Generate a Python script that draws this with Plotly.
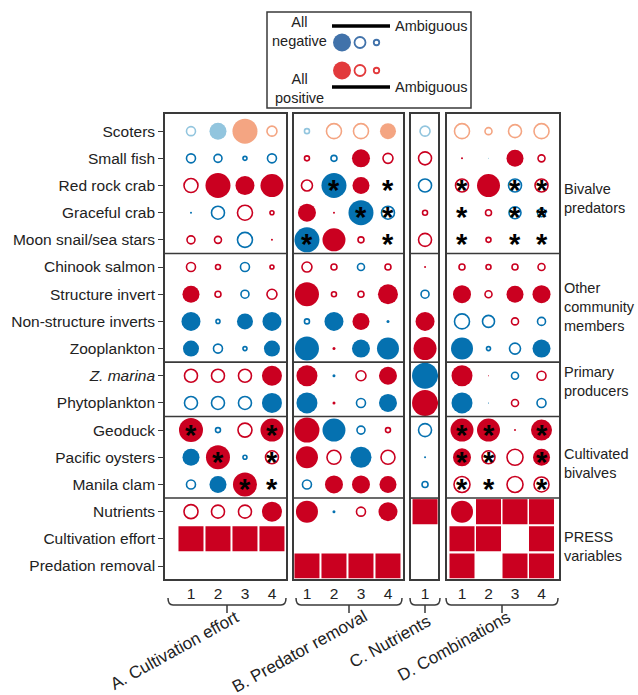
import plotly.graph_objects as go

W, H = 638, 695

row_labels = [
    "Scoters", "Small fish", "Red rock crab", "Graceful crab", "Moon snail/sea stars",
    "Chinook salmon", "Structure invert", "Non-structure inverts", "Zooplankton",
    "<i>Z. marina</i>", "Phytoplankton", "Geoduck", "Pacific oysters", "Manila clam",
    "Nutrients", "Cultivation effort", "Predation removal",
]

# Cell codes: first letter = colour (R/r red, B/b blue, S/s salmon, L/l light blue),
# upper case = filled circle, lower case = open circle, number = circle size,
# trailing "*" = significant, "Q" = press variable, "" = empty.
panel_A = [
    ["l9", "L17", "S25", "s10"],
    ["b9", "b8", "b4", "b9"],
    ["r14", "R25", "R19", "R23"],
    ["B2", "b13", "r15", "r4"],
    ["r8", "r7", "b15", "R2"],
    ["r9", "r5", "b9", "r4"],
    ["R17", "r6", "b8", "r10"],
    ["B19", "b4", "B16", "B19"],
    ["B16", "b9", "b4", "B16"],
    ["r13", "r13", "r13", "R20"],
    ["b13", "b13", "b13", "B20"],
    ["R24*", "b5", "r14", "R23*"],
    ["B17", "R24*", "b4", "r13*"],
    ["b9", "B17", "R24*", "*"],
    ["r14", "r13", "r13", "R20"],
    ["Q", "Q", "Q", "Q"],
    ["", "", "", ""],
]

panel_B = [
    ["l5", "s15", "s15", "S16"],
    ["r5", "b6", "R18", "r10"],
    ["r11", "B25*", "R17", "*"],
    ["R18", "R2", "B25*", "b13*"],
    ["B25*", "R23", "r6", "*"],
    ["r10", "r6", "b7", "r6"],
    ["R24", "r5", "r6", "R20"],
    ["b5", "B19", "R17", "B3"],
    ["B24", "R3", "B18", "B22"],
    ["R21", "B3", "r10", "R18"],
    ["B21", "R3", "b9", "B18"],
    ["R25", "B23", "b8", "r5"],
    ["R22", "r14", "B21", "r14"],
    ["b9", "R18", "R18", "R17"],
    ["R22", "B3", "r9", "R19"],
    ["", "", "", ""],
    ["Q", "Q", "Q", "Q"],
]

panel_C = [
    ["l10"], ["r13"], ["b13"], ["r5"], ["r13"],
    ["R2"], ["b8"], ["R19"], ["R23"],
    ["B26"], ["R26"],
    ["b13"], ["B2"], ["b6"],
    ["Q"], [""], [""],
]

panel_D = [
    ["s15", "s7", "s13", "s15"],
    ["R2", "L1", "R17", "r7"],
    ["r13*", "R23", "b13*", "r13*"],
    ["*", "r6", "b12*", "b8*"],
    ["*", "r5", "*", "*"],
    ["r6", "r5", "r6", "r7"],
    ["R18", "r7", "R17", "R18"],
    ["b15", "b12", "r7", "b8"],
    ["B22", "b4", "b11", "B18"],
    ["R21", "R1", "b7", "r9"],
    ["B21", "B1", "r7", "b9"],
    ["R23*", "R23*", "R2", "R21*"],
    ["R18*", "r13*", "r16", "R17*"],
    ["r16*", "*", "r16", "r15*"],
    ["R22", "Q", "Q", "Q"],
    ["Q", "Q", "", "Q"],
    ["Q", "", "Q", "Q"],
]

col_labels_4 = ["1", "2", "3", "4"]
col_labels_1 = ["1"]

group_titles = [
    "Bivalve<br>predators",
    "Other<br>community<br>members",
    "Primary<br>producers",
    "Cultivated<br>bivalves",
    "PRESS<br>variables",
]

treatment_titles = ["A. Cultivation effort", "B. Predator removal", "C. Nutrients", "D. Combinations"]

COLOURS = {"r": "#ca0020", "b": "#0571b0", "s": "#f4a582", "l": "#92c5de"}
LEG_BLUE, LEG_RED = "#4172aa", "#e23a3c"
INK = "#222222"
FRAME = "#3a3a3a"
FONT = "Liberation Sans, Arial, sans-serif"


def fx(p):
    return p / W


def fy(p):
    return 1 - p / H


# panel geometry (pixel domains and column ranges)
panels = [
    dict(cells=panel_A, ticks=col_labels_4, dom=(165, 286), rng=(0.037, 4.52),
         brace=(168, 286), title=treatment_titles[0], tpos=(245, 605)),
    dict(cells=panel_B, ticks=col_labels_4, dom=(294, 403), rng=(0.52, 4.556),
         brace=(296, 402), title=treatment_titles[1], tpos=(373, 603.5)),
    dict(cells=panel_C, ticks=col_labels_1, dom=(411, 438), rng=(0.48, 1.48),
         brace=(410, 440), title=treatment_titles[2], tpos=(437, 608.5)),
    dict(cells=panel_D, ticks=col_labels_4, dom=(447, 559), rng=(0.434, 4.66),
         brace=(446, 558), title=treatment_titles[3], tpos=(516, 604.5)),
]

Y_DOM = (fy(578.5), fy(113.5))
Y_RANGE = [16.46, -0.65]
separators = [4.5, 8.5, 10.5, 13.5]

fig = go.Figure()
layout = dict(
    width=W, height=H, margin=dict(l=0, r=0, t=0, b=0),
    paper_bgcolor="white", plot_bgcolor="rgba(0,0,0,0)", showlegend=False,
    font=dict(family=FONT, size=15.5, color=INK),
)
shapes, annotations = [], []

for k, p in enumerate(panels, start=1):
    xa = "xaxis" if k == 1 else f"xaxis{k}"
    ya = "yaxis" if k == 1 else f"yaxis{k}"
    xr = "x" if k == 1 else f"x{k}"
    yr = "y" if k == 1 else f"y{k}"
    ncol = len(p["ticks"])
    layout[xa] = dict(
        domain=[fx(p["dom"][0]), fx(p["dom"][1])], range=list(p["rng"]), anchor=yr,
        tickvals=list(range(1, ncol + 1)), ticktext=p["ticks"], ticks="",
        showgrid=False, zeroline=False, showline=True, mirror=True,
        linecolor=FRAME, linewidth=1.6, tickfont=dict(size=15.5, color=INK),
        fixedrange=True,
    )
    layout[ya] = dict(
        domain=list(Y_DOM), range=Y_RANGE, anchor=xr,
        tickvals=list(range(len(row_labels))), ticktext=row_labels,
        showticklabels=(k == 1), ticks="outside" if k == 1 else "", ticklen=5,
        tickcolor=FRAME, tickwidth=1,
        showgrid=False, zeroline=False, showline=True, mirror=True,
        linecolor=FRAME, linewidth=1.6, tickfont=dict(size=15.5, color=INK),
        fixedrange=True,
    )

    filled = dict(x=[], y=[], c=[], s=[])
    opened = dict(x=[], y=[], c=[], s=[])
    squares = dict(x=[], y=[])
    stars = dict(x=[], y=[])
    for r, row in enumerate(p["cells"]):
        for c, code in enumerate(row, start=1):
            if not code:
                continue
            if code == "Q":
                squares["x"].append(c)
                squares["y"].append(r)
                continue
            if code.endswith("*"):
                stars["x"].append(c)
                stars["y"].append(r)
                code = code[:-1]
            if not code:
                continue
            letter, size = code[0], float(code[1:])
            target = filled if letter.isupper() else opened
            target["x"].append(c)
            target["y"].append(r)
            target["c"].append(COLOURS[letter.lower()])
            target["s"].append(size)

    fig.add_trace(go.Scatter(
        x=filled["x"], y=filled["y"], xaxis=xr, yaxis=yr, mode="markers",
        marker=dict(symbol="circle", size=filled["s"], color=filled["c"], opacity=1,
                    line=dict(width=0)),
        hoverinfo="skip",
    ))
    fig.add_trace(go.Scatter(
        x=opened["x"], y=opened["y"], xaxis=xr, yaxis=yr, mode="markers",
        marker=dict(symbol="circle-open", size=opened["s"], color=opened["c"], opacity=1,
                    line=dict(width=1.6, color=opened["c"])),
        hoverinfo="skip",
    ))
    fig.add_trace(go.Scatter(
        x=squares["x"], y=squares["y"], xaxis=xr, yaxis=yr, mode="markers",
        marker=dict(symbol="square", size=25, color=COLOURS["r"], opacity=1, line=dict(width=0)),
        hoverinfo="skip",
    ))
    for c, r in zip(stars["x"], stars["y"]):
        annotations.append(dict(
            x=c, y=r, xref=xr, yref=yr, text="<b>*</b>", showarrow=False,
            font=dict(size=29, family=FONT, color="black"), yshift=-4.5,
        ))
    for s in separators:
        shapes.append(dict(
            type="line", xref=f"{xr} domain", yref=yr, x0=0, x1=1, y0=s, y1=s,
            line=dict(color=FRAME, width=1.6),
        ))

# full-canvas overlay axis in pixel units for braces, legend and side labels
layout["xaxis5"] = dict(domain=[0, 1], range=[0, W], anchor="y5", visible=False, fixedrange=True)
layout["yaxis5"] = dict(domain=[0, 1], range=[H, 0], anchor="x5", visible=False, fixedrange=True)

for p in panels:
    x0, x1 = p["brace"]
    xc = (x0 + x1) / 2
    path = (f"M {x0},598 Q {x0},605 {x0 + 5},605 L {x1 - 5},605 Q {x1},605 {x1},598 "
            f"M {xc},605 L {xc},613")
    shapes.append(dict(type="path", xref="x5", yref="y5", path=path,
                       line=dict(color=FRAME, width=1.5)))
    annotations.append(dict(
        x=p["tpos"][0], y=p["tpos"][1], xref="x5", yref="y5", text=p["title"],
        textangle=-29, xanchor="right", yanchor="top", showarrow=False,
        font=dict(size=17, color=INK),
    ))

# group titles on the right
title_centres = [198, 307, 381, 463, 546]
for txt, yy in zip(group_titles, title_centres):
    annotations.append(dict(
        x=562, y=yy, xref="x5", yref="y5", text=txt, xanchor="left", align="left",
        yanchor="middle", showarrow=False, font=dict(size=14.5, color=INK),
    ))

# legend box
shapes.append(dict(type="rect", xref="x5", yref="y5", x0=267, x1=471, y0=12, y1=108,
                   line=dict(color=FRAME, width=1.5)))
for yy in (26, 87):
    shapes.append(dict(type="line", xref="x5", yref="y5", x0=332, x1=390, y0=yy, y1=yy,
                       line=dict(color="black", width=3.5)))
    annotations.append(dict(x=393, y=yy, xref="x5", yref="y5", text="Ambiguous",
                            xanchor="left", yanchor="middle", showarrow=False,
                            font=dict(size=14.5, color=INK)))
for txt, yy in (("All<br>negative", 31), ("All<br>positive", 88.5)):
    annotations.append(dict(x=299, y=yy, xref="x5", yref="y5", text=txt,
                            xanchor="center", yanchor="middle", showarrow=False,
                            font=dict(size=14.5, color=INK)))

leg_x = [342, 360, 376.5]
for yy, col in ((42.5, LEG_BLUE), (70.5, LEG_RED)):
    fig.add_trace(go.Scatter(
        x=leg_x[:1], y=[yy], xaxis="x5", yaxis="y5", mode="markers",
        marker=dict(symbol="circle", size=18, color=col, opacity=1, line=dict(width=0)),
        hoverinfo="skip",
    ))
    fig.add_trace(go.Scatter(
        x=leg_x[1:], y=[yy, yy], xaxis="x5", yaxis="y5", mode="markers",
        marker=dict(symbol="circle-open", size=[11, 5.5], color=col, opacity=1,
                    line=dict(width=1.8, color=col)),
        hoverinfo="skip",
    ))

layout["shapes"] = shapes
layout["annotations"] = annotations
fig.update_layout(**layout)
fig.write_html("out.html", config={"displayModeBar": False})
